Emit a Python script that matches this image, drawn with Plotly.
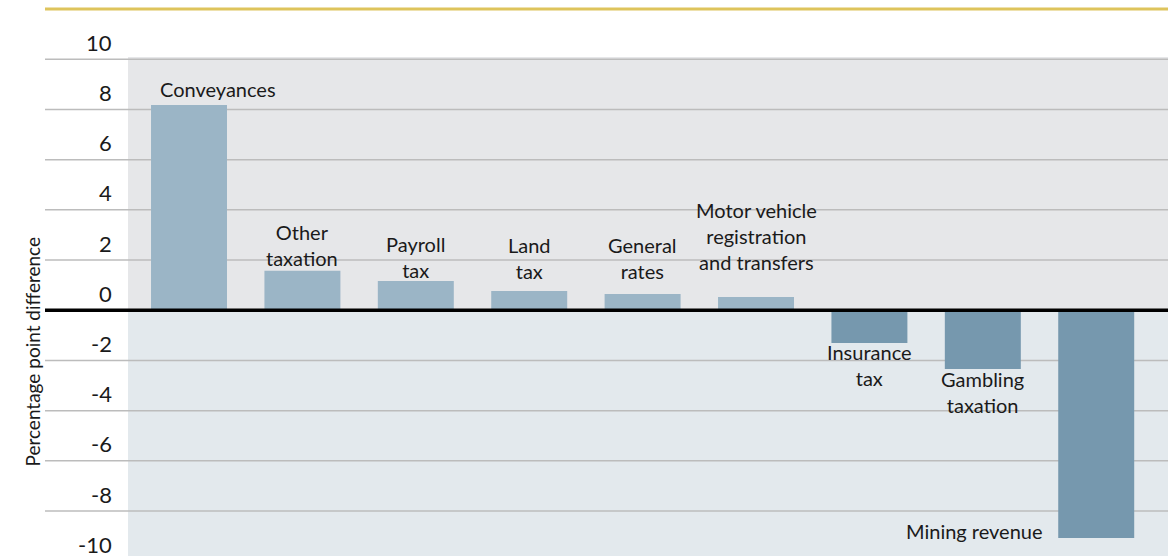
import plotly.graph_objects as go

categories = ["Conveyances", "Other taxation", "Payroll tax", "Land tax", "General rates",
              "Motor vehicle registration and transfers", "Insurance tax", "Gambling taxation",
              "Mining revenue"]
values = [8.18, 1.57, 1.17, 0.77, 0.65, 0.53, -1.30, -2.34, -9.07]
label_text = ["Conveyances", "Other<br>taxation", "Payroll<br>tax", "Land<br>tax", "General<br>rates",
              "Motor vehicle<br>registration<br>and transfers", "Insurance<br>tax",
              "Gambling<br>taxation", "Mining revenue"]
tick_vals = [10, 8, 6, 4, 2, 0, -2, -4, -6, -8, -10]
tick_text = ["10", "8", "6", "4", "2", "0", "-2", "-4", "-6", "-8", "-10"]

# label placement (layout only)
label_y = [8.82, 2.60, 2.14, 2.08, 2.08, 2.94, -2.18, -3.25, -8.79]
label_xshift = [29, 0, 0, 0, 0, 0, 0, 0, -51]
label_xanchor = ["center"] * 8 + ["right"]

FONT = "Lato, Open Sans, sans-serif"
POS_COL = "#9bb5c6"
NEG_COL = "#7698ae"
Y_MIN, Y_MAX = -9.79, 10.09

x = list(range(len(categories)))
colors = [POS_COL if v >= 0 else NEG_COL for v in values]

fig = go.Figure()
fig.add_trace(go.Bar(x=x, y=values, marker=dict(color=colors, line=dict(width=0)),
                     width=0.67, hovertext=categories, hoverinfo="text+y"))

W, H = 1168, 556
L, T = 128, 57
pw = W - L
left_ext = (45 - L) / pw

shapes = []
shapes.append(dict(type="rect", xref="paper", yref="y", x0=0, x1=1, y0=-12, y1=0,
                   fillcolor="#e3e9ed", line=dict(width=0), layer="below"))
for tv in tick_vals:
    if tv == 0:
        continue
    shapes.append(dict(type="line", xref="paper", yref="y", x0=left_ext, x1=1, y0=tv, y1=tv,
                       line=dict(color="#bcbcbc", width=1.5), layer="between"))
shapes.append(dict(type="line", xref="paper", yref="y", x0=left_ext, x1=1, y0=0, y1=0,
                   line=dict(color="#000000", width=3.5), layer="above"))
shapes.append(dict(type="line", xref="paper", yref="paper", x0=left_ext, x1=1,
                   y0=(H - 9) / (H - T), y1=(H - 9) / (H - T),
                   line=dict(color="#dec45c", width=3)))

annotations = []
for i, (t, ly, xs, xa) in enumerate(zip(label_text, label_y, label_xshift, label_xanchor)):
    annotations.append(dict(x=i, y=ly, xref="x", yref="y", text=t, showarrow=False,
                            xanchor=xa, yanchor="middle", xshift=xs,
                            font=dict(family=FONT, size=20, color="#1a1a1a")))
# y tick labels (sit above their gridlines)
for tv, tt in zip(tick_vals, tick_text):
    annotations.append(dict(x=(114 - L) / pw, y=(tv - Y_MIN) / (Y_MAX - Y_MIN),
                            xref="paper", yref="paper", text=tt, showarrow=False,
                            xanchor="right", yanchor="middle", yshift=17,
                            font=dict(family=FONT, size=22, color="#1a1a1a")))
annotations.append(dict(x=(18 - L) / pw, y=(H - 352) / (H - T), xref="paper", yref="paper",
                        text="Percentage point difference", textangle=-90, showarrow=False,
                        font=dict(family=FONT, size=19, color="#1a1a1a")))

fig.update_layout(
    width=W, height=H,
    margin=dict(l=L, r=0, t=T, b=0),
    paper_bgcolor="white", plot_bgcolor="#e6e7e9",
    showlegend=False, bargap=0.33,
    shapes=shapes, annotations=annotations,
    font=dict(family=FONT, size=20, color="#1a1a1a"),
    xaxis=dict(range=[-0.538, 8.633], showticklabels=False, showgrid=False, zeroline=False,
               showline=False, ticks=""),
    yaxis=dict(range=[Y_MIN, Y_MAX], showticklabels=False, showgrid=False,
               zeroline=False, showline=False, ticks=""),
)

fig.write_html("out.html", config={"displayModeBar": False},
               post_script="document.body.style.margin='0';document.body.style.overflow='hidden';")
